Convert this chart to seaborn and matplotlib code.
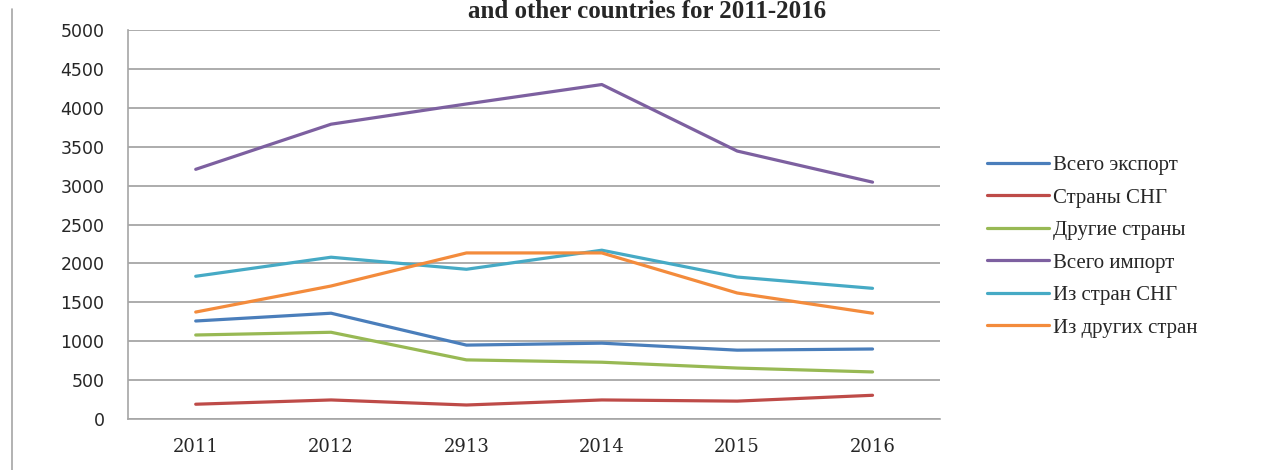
import pandas as pd
import matplotlib.pyplot as plt
import seaborn as sns
from matplotlib.lines import Line2D
from matplotlib.ticker import FixedLocator

years = ['2011', '2012', '2913', '2014', '2015', '2016']

export_total = [1260, 1360, 950, 975, 885, 900]
export_cis = [190, 245, 180, 245, 230, 305]
export_other = [1080, 1115, 760, 730, 655, 605]
import_total = [3210, 3790, 4050, 4300, 3445, 3045]
import_cis = [1835, 2080, 1925, 2170, 1825, 1680]
import_other = [1375, 1710, 2135, 2135, 1620, 1360]

names = ['Всего экспорт', 'Страны СНГ', 'Другие страны',
         'Всего импорт', 'Из стран СНГ', 'Из других стран']
colors = ['#4A7EBB', '#BE4B48', '#98B954', '#7D60A0', '#46AAC5', '#F38B3C']

series = [export_total, export_cis, export_other, import_total, import_cis, import_other]
rows = []
for name, vals in zip(names, series):
    for y, v in zip(years, vals):
        rows.append({'Год': y, 'Значение': v, 'Ряд': name})
df = pd.DataFrame(rows)

sns.set_style('white')
plt.rcParams['font.family'] = ['DejaVu Sans']

fig = plt.figure(figsize=(12.74, 4.7), dpi=100)
ax = fig.add_axes([0.1005, 0.1085, 0.6375, 0.8275])

sns.lineplot(data=df, x='Год', y='Значение', hue='Ряд', hue_order=names,
             palette=colors, linewidth=2.3, sort=False, ax=ax)

ax.set_ylim(0, 5000)
ax.set_xlim(-0.5, 5.5)
ax.set_yticks(range(0, 5001, 500))
ax.yaxis.grid(True, color='#A6A6A6', linewidth=1.3)
ax.set_axisbelow(True)
ax.set_xlabel('')
ax.set_ylabel('')

# tick marks sit between the categories, like in Excel
ax.xaxis.set_minor_locator(FixedLocator([i - 0.5 for i in range(7)]))
ax.tick_params(axis='x', which='major', length=0, pad=14, labelsize=13)
ax.tick_params(axis='x', which='minor', length=7, width=1, color='#A6A6A6', direction='out')
ax.tick_params(axis='y', length=7, width=1, color='#A6A6A6', direction='out', pad=10, labelsize=12.5)
for lab in ax.get_xticklabels():
    lab.set_fontfamily('DejaVu Serif')

for s in ['top', 'right']:
    ax.spines[s].set_visible(False)
for s in ['left', 'bottom']:
    ax.spines[s].set_color('#A6A6A6')
    ax.spines[s].set_linewidth(1.2)

ax.legend(loc='center left', bbox_to_anchor=(1.034, 0.443), frameon=False,
          prop={'family': 'Liberation Serif', 'size': 15},
          handlelength=3.0, handletextpad=0.2, labelspacing=0.62)

fig.text(0.508, 0.962, 'and other countries for 2011-2016', ha='center', va='baseline',
         fontsize=18, fontweight='bold', family='Liberation Serif')

fig.add_artist(Line2D([0.0095, 0.0095], [0.0, 0.98], transform=fig.transFigure,
                      color='#A6A6A6', linewidth=1.2))

fig.savefig('out.png', dpi=100)
